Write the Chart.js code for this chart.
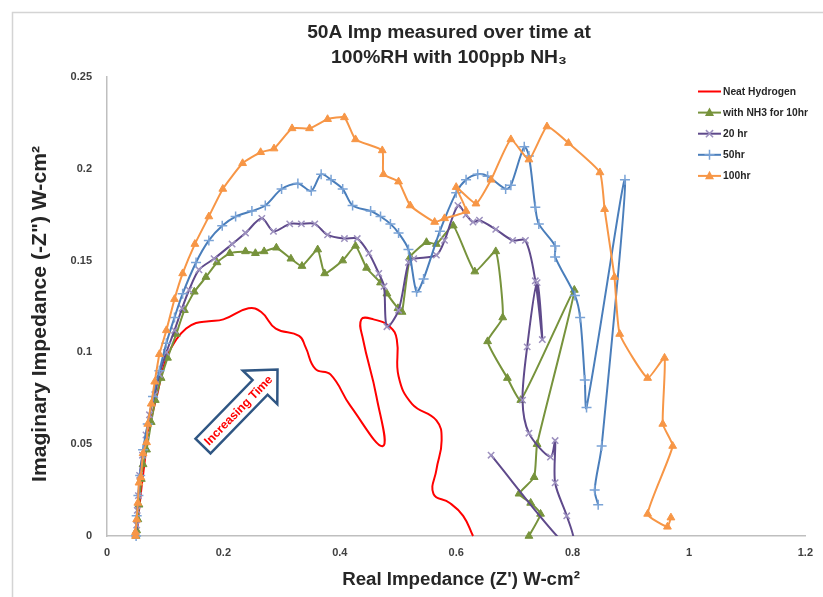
<!DOCTYPE html>
<html><head><meta charset="utf-8">
<script src="https://cdn.jsdelivr.net/npm/chart.js@4"></script>
<style>html,body{margin:0;padding:0;background:#fff;}canvas{display:block;}</style>
</head><body>
<canvas id="c" width="823" height="597"></canvas>
<script>
// ---------- data ----------
const seriesNames = ['Neat Hydrogen', 'with NH3 for 10hr', '20 hr', '50hr', '100hr'];
const xTickLabels = ['0', '0.2', '0.4', '0.6', '0.8', '1', '1.2'];
const yTickLabels = ['0', '0.05', '0.1', '0.15', '0.2', '0.25'];

const neatX = [0.051,0.056,0.063,0.073,0.087,0.100,0.119,0.136,0.153,0.175,0.200,0.243,0.265,0.290,0.330,0.341,0.358,0.384,0.418,0.474,0.463,0.440,0.437,0.458,0.486,0.498,0.501,0.524,0.566,0.575,0.566,0.561,0.589,0.612,0.629];
const neatY = [0,0.017,0.036,0.059,0.078,0.095,0.107,0.113,0.116,0.117,0.118,0.124,0.122,0.113,0.109,0.103,0.091,0.088,0.071,0.049,0.076,0.107,0.118,0.118,0.114,0.107,0.087,0.072,0.063,0.052,0.036,0.023,0.018,0.011,0];

const nh3X = [0.050,0.051,0.053,0.055,0.059,0.062,0.068,0.076,0.083,0.093,0.104,0.119,0.133,0.150,0.170,0.189,0.211,0.238,0.255,0.270,0.291,0.316,0.335,0.362,0.374,0.405,0.427,0.446,0.470,0.481,0.500,0.507,0.521,0.549,0.566,0.595,0.632,0.668,0.680,0.654,0.688,0.711,0.803,0.739,0.734,0.708,0.728,0.745,0.725];
const nh3Y = [0,0.003,0.009,0.017,0.031,0.039,0.047,0.062,0.074,0.086,0.097,0.110,0.123,0.133,0.141,0.149,0.154,0.155,0.154,0.155,0.157,0.151,0.147,0.156,0.143,0.150,0.158,0.146,0.138,0.132,0.124,0.122,0.152,0.160,0.159,0.169,0.144,0.155,0.119,0.106,0.086,0.074,0.134,0.050,0.032,0.023,0.018,0.012,0];

const hr20X = [0.050,0.051,0.052,0.054,0.056,0.061,0.067,0.073,0.082,0.090,0.102,0.116,0.129,0.141,0.158,0.184,0.215,0.238,0.266,0.286,0.314,0.334,0.357,0.379,0.408,0.430,0.450,0.467,0.476,0.481,0.501,0.518,0.527,0.566,0.580,0.603,0.617,0.629,0.640,0.668,0.697,0.719,0.736,0.748,0.739,0.722,0.714,0.725,0.762,0.770,0.770,0.790,0.802,0.782,0.660];
const hr20Y = [0,0.006,0.014,0.022,0.033,0.044,0.055,0.066,0.077,0.088,0.100,0.112,0.124,0.134,0.145,0.151,0.159,0.165,0.173,0.166,0.170,0.170,0.170,0.164,0.162,0.162,0.154,0.143,0.136,0.114,0.123,0.149,0.151,0.153,0.161,0.180,0.175,0.171,0.172,0.167,0.161,0.161,0.139,0.107,0.138,0.103,0.074,0.056,0.043,0.052,0.029,0.011,-0.003,-0.003,0.044];

const hr50X = [0.050,0.051,0.054,0.057,0.062,0.070,0.079,0.090,0.102,0.116,0.130,0.153,0.175,0.198,0.221,0.249,0.272,0.300,0.328,0.351,0.368,0.385,0.405,0.422,0.453,0.470,0.487,0.501,0.518,0.532,0.544,0.572,0.600,0.617,0.637,0.654,0.685,0.694,0.717,0.725,0.736,0.742,0.770,0.770,0.804,0.813,0.821,0.824,0.890,0.850,0.838,0.844];
const hr50Y = [0,0.011,0.022,0.033,0.047,0.061,0.076,0.090,0.105,0.119,0.132,0.149,0.161,0.169,0.174,0.177,0.180,0.189,0.192,0.188,0.197,0.194,0.189,0.180,0.177,0.174,0.170,0.165,0.156,0.133,0.140,0.166,0.187,0.194,0.197,0.196,0.189,0.191,0.212,0.207,0.179,0.170,0.158,0.152,0.131,0.119,0.085,0.070,0.194,0.049,0.025,0.017];

const hr100X = [0.049,0.049,0.051,0.053,0.055,0.058,0.062,0.068,0.070,0.076,0.082,0.090,0.102,0.116,0.130,0.151,0.175,0.199,0.233,0.264,0.287,0.318,0.348,0.379,0.408,0.427,0.473,0.475,0.501,0.521,0.563,0.580,0.617,0.600,0.634,0.660,0.694,0.725,0.756,0.793,0.847,0.855,0.872,0.881,0.929,0.958,0.955,0.972,0.929,0.963,0.969];
const hr100Y = [0,0.002,0.009,0.018,0.029,0.032,0.045,0.051,0.061,0.072,0.084,0.099,0.112,0.129,0.143,0.159,0.174,0.189,0.203,0.209,0.211,0.222,0.222,0.227,0.228,0.216,0.210,0.197,0.193,0.180,0.171,0.173,0.177,0.190,0.181,0.194,0.216,0.205,0.223,0.214,0.198,0.178,0.141,0.110,0.086,0.097,0.061,0.049,0.012,0.005,0.010];

// annotation arrow (data coordinates of tail centre and tip)
const arrowTail = [0.165, 0.049];
const arrowTip = [0.293, 0.0907];
const arrowText = 'Increasing Time';

// ---------- helpers ----------
const FONT = '"Liberation Sans Narrow","Liberation Sans",Arial,sans-serif';
const pts = (xs, ys) => xs.map((x, i) => ({ x: x, y: ys[i] }));

function fitFont(ctx, text, weight, target) {
  ctx.font = weight + ' 20px ' + FONT;
  const w = ctx.measureText(text).width;
  const s = 20 * target / w;
  ctx.font = weight + ' ' + s.toFixed(2) + 'px ' + FONT;
  return s;
}

function marker(ctx, style, x, y, r, fill, stroke) {
  ctx.save();
  ctx.fillStyle = fill; ctx.strokeStyle = stroke; ctx.lineWidth = 1.5;
  ctx.beginPath();
  if (style === 'triangle') {
    ctx.moveTo(x, y - r * 1.15); ctx.lineTo(x + r, y + r * 0.75); ctx.lineTo(x - r, y + r * 0.75); ctx.closePath();
    ctx.fill();
  } else if (style === 'cross') {
    ctx.moveTo(x, y - r); ctx.lineTo(x, y + r); ctx.moveTo(x - r, y); ctx.lineTo(x + r, y); ctx.stroke();
  } else if (style === 'crossRot') {
    const d = r * 0.8;
    ctx.moveTo(x - d, y - d); ctx.lineTo(x + d, y + d); ctx.moveTo(x + d, y - d); ctx.lineTo(x - d, y + d); ctx.stroke();
  }
  ctx.restore();
}

const styles = [
  { color: '#FF0000', mcolor: '#FF0000', point: null, tension: 0.45, r: 0 },
  { color: '#77933C', mcolor: '#77933C', point: 'triangle', tension: 0.15, r: 4.5 },
  { color: '#5F4A8B', mcolor: '#9d91bf', point: 'crossRot', tension: 0.3, r: 4.5 },
  { color: '#4A7EBB', mcolor: '#7aa3d6', point: 'cross', tension: 0.3, r: 5 },
  { color: '#F79646', mcolor: '#F79646', point: 'triangle', tension: 0.15, r: 4.5 }
];
const dataSets = [pts(neatX, neatY), pts(nh3X, nh3Y), pts(hr20X, hr20Y), pts(hr50X, hr50Y), pts(hr100X, hr100Y)];

const datasets = dataSets.map((d, i) => ({
  label: seriesNames[i],
  data: d,
  showLine: true,
  borderColor: styles[i].color,
  backgroundColor: styles[i].mcolor,
  borderWidth: 2,
  tension: styles[i].tension,
  pointStyle: styles[i].point || 'circle',
  pointRadius: styles[i].r,
  pointBorderColor: styles[i].mcolor,
  pointBackgroundColor: styles[i].mcolor,
  pointBorderWidth: styles[i].point === 'triangle' ? 1 : 1.5,
  order: 4 - i,
  clip: i === 2 ? 0 : 6
}));

const decor = {
  id: 'decor',
  beforeDraw(chart) {
    const c = chart.ctx;
    c.save();
    c.fillStyle = '#fff'; c.fillRect(0, 0, chart.width, chart.height);
    c.strokeStyle = '#d4d4d4'; c.lineWidth = 1.5;
    c.beginPath(); c.moveTo(12.5, chart.height); c.lineTo(12.5, 12.5); c.lineTo(chart.width, 12.5); c.stroke();
    c.restore();
  },
  afterDraw(chart) {
    const c = chart.ctx;
    const xs = chart.scales.x, ys = chart.scales.y;
    c.save();
    c.fillStyle = '#262626';
    c.textAlign = 'center'; c.textBaseline = 'middle';
    // chart title
    fitFont(c, '50A Imp measured over time at', 'bold', 284);
    c.fillText('50A Imp measured over time at', 449, 33);
    fitFont(c, '100%RH with 100ppb NH\u2083', 'bold', 236);
    c.fillText('100%RH with 100ppb NH\u2083', 449, 58);
    // axis titles
    fitFont(c, "Real Impedance (Z') W-cm\u00B2", 'bold', 238);
    c.fillText("Real Impedance (Z') W-cm\u00B2", 461, 580);
    c.save();
    c.translate(40, 314); c.rotate(-Math.PI / 2);
    fitFont(c, 'Imaginary Impedance (-Z") W-cm\u00B2', 'bold', 336);
    c.fillText('Imaginary Impedance (-Z") W-cm\u00B2', 0, 0);
    c.restore();
    // legend
    c.textAlign = 'left';
    fitFont(c, seriesNames[1], 'bold', 85);
    const lf = c.font;
    seriesNames.forEach((n, i) => {
      const y = 91.5 + i * 21.1;
      c.strokeStyle = styles[i].color; c.lineWidth = 2;
      c.beginPath(); c.moveTo(698, y); c.lineTo(721, y); c.stroke();
      if (styles[i].point) marker(c, styles[i].point, 709.5, y, styles[i].r, styles[i].mcolor, styles[i].mcolor);
      c.font = lf; c.fillStyle = '#262626';
      c.fillText(n, 723, y + 0.5);
    });
    // annotation arrow
    const tx = xs.getPixelForValue(arrowTail[0]), ty = ys.getPixelForValue(arrowTail[1]);
    const px = xs.getPixelForValue(arrowTip[0]), py = ys.getPixelForValue(arrowTip[1]);
    const L = Math.hypot(px - tx, py - ty);
    const ux = (px - tx) / L, uy = (py - ty) / L;
    const nx = -uy, ny = ux;
    const sw = 10.5, hw = 24, hl = 25;
    const bx = px - ux * hl, by = py - uy * hl;
    c.beginPath();
    c.moveTo(tx + nx * sw, ty + ny * sw);
    c.lineTo(bx + nx * sw, by + ny * sw);
    c.lineTo(bx + nx * hw, by + ny * hw);
    c.lineTo(px, py);
    c.lineTo(bx - nx * hw, by - ny * hw);
    c.lineTo(bx - nx * sw, by - ny * sw);
    c.lineTo(tx - nx * sw, ty - ny * sw);
    c.closePath();
    c.fillStyle = '#fff'; c.fill();
    c.strokeStyle = '#2F5683'; c.lineWidth = 2.5; c.lineJoin = 'miter'; c.stroke();
    c.save();
    const mx = tx + ux * L * 0.47, my = ty + uy * L * 0.47;
    c.translate(mx, my); c.rotate(Math.atan2(uy, ux));
    c.textAlign = 'center'; c.textBaseline = 'middle';
    fitFont(c, arrowText, 'bold', 92);
    c.fillStyle = '#FF0000';
    c.fillText(arrowText, 0, 1);
    c.restore();
    c.restore();
  }
};

const tickFont = { family: FONT, size: 11, weight: 'bold' };
new Chart(document.getElementById('c'), {
  type: 'scatter',
  data: { datasets: datasets },
  options: {
    responsive: false,
    animation: false,
    events: [],
    layout: { padding: { left: 0, right: 10, top: 77, bottom: 0 } },
    scales: {
      x: {
        type: 'linear', min: 0, max: 1.2,
        grid: { display: false, drawTicks: false },
        border: { display: true, color: '#bfbfbf', width: 1.5 },
        ticks: { stepSize: 0.2, autoSkip: false, maxRotation: 0, padding: 10, color: '#404040', font: tickFont,
          callback: (v, i) => xTickLabels[i] },
        afterFit: s => { s.height = 61; }
      },
      y: {
        type: 'linear', min: 0, max: 0.25,
        grid: { display: false, drawTicks: false },
        border: { display: true, color: '#bfbfbf', width: 1.5 },
        ticks: { stepSize: 0.05, autoSkip: false, padding: 15, color: '#404040', font: tickFont,
          callback: (v, i) => yTickLabels[i] },
        afterFit: s => { s.width = 107; }
      }
    },
    plugins: { legend: { display: false }, title: { display: false }, tooltip: { enabled: false } }
  },
  plugins: [decor]
});
</script>
</body></html>
